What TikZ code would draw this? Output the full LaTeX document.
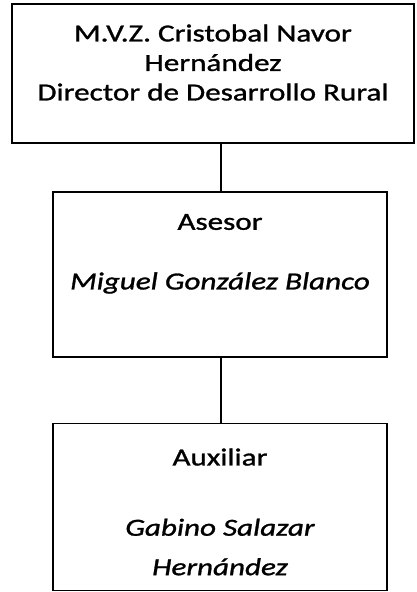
\documentclass[tikz,border=0pt]{standalone}
\usepackage{fontspec}
\setmainfont{Carlito}[FakeStretch=1.27,FakeBold=1.2]
\usepackage{tikz}
\usetikzlibrary{positioning}
\tikzset{
  orgbox/.style={draw=black,line width=1.6pt,rectangle,inner sep=0pt},
  orgtext/.style={font=\fontsize{24.5}{29.5}\selectfont,align=center,inner sep=0pt},
  orgname/.style={font=\fontsize{24.5}{29.5}\selectfont\itshape,align=center,inner sep=0pt},
  orglink/.style={line width=1.4pt,draw=black}
}
\begin{document}
\begin{tikzpicture}[x=1pt,y=-1pt]
  \useasboundingbox (0,0) rectangle (416,592);

  % director
  \node[orgbox,minimum width=402pt,minimum height=139pt] (dir) at (213,73.5) {};
  \node[orgtext] (dirtxt) at (213,62.5)
    {M.V.Z. Cristobal Navor\\Hernández\\Director de Desarrollo Rural};

  % asesor
  \node[orgbox,minimum width=334pt,minimum height=165pt] (ase) at (220,274.5) {};
  \node[orgtext] (asetit) at (220,222) {Asesor};
  \node[orgname] (asenom) at (220,283) {Miguel González Blanco};

  % auxiliar
  \node[orgbox,minimum width=334pt,minimum height=167pt] (aux) at (220,507) {};
  \node[orgtext] (auxtit) at (220,457) {Auxiliar};
  \node[orgname] (auxnom) at (220,547) {Gabino Salazar\\[10pt]Hernández};

  \draw[orglink] (dir.south -| 221,0) -- (ase.north -| 221,0);
  \draw[orglink] (ase.south -| 221,0) -- (aux.north -| 221,0);
\end{tikzpicture}
\end{document}
